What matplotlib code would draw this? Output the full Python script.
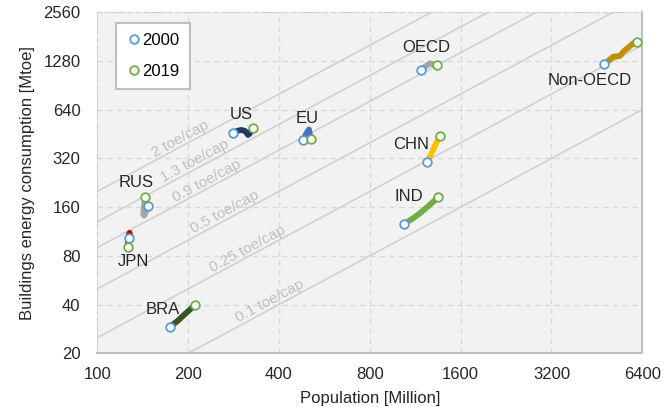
import numpy as np
import matplotlib.pyplot as plt
from matplotlib.lines import Line2D
from matplotlib.ticker import FixedLocator, FixedFormatter, NullLocator

plt.rcParams['font.family'] = ['Liberation Sans', 'DejaVu Sans']

# Population [Million] and buildings energy consumption [Mtoe], 2000 -> 2019
us_pop = [282, 290, 300, 309, 316, 321, 328]
us_energy = [458, 473, 480, 473, 447, 460, 492]
eu_pop = [482, 492, 503, 507, 510]
eu_energy = [416, 453, 483, 445, 421]
rus_pop = [147, 145, 143, 142, 143, 144]
rus_energy = [163, 150, 142, 145, 165, 186]
jpn_pop = [127, 128, 128, 127, 126]
jpn_energy = [103, 108, 111, 104, 91]
bra_pop = [174, 185, 197, 211]
bra_energy = [29.2, 31.8, 35.5, 39.8]
chn_pop = [1242, 1262, 1280, 1300, 1330, 1368]
chn_energy = [303, 325, 340, 365, 400, 443]
ind_pop = [1040, 1110, 1175, 1240, 1300, 1344]
ind_energy = [126, 136, 147, 160, 173, 184]
oecd_pop = [1183, 1220, 1268, 1300, 1340]
oecd_energy = [1128, 1180, 1240, 1215, 1211]
nonoecd_pop = [4785, 5140, 5407, 5545, 5985, 6144]
nonoecd_energy = [1223, 1362, 1377, 1463, 1650, 1687]

# per-capita reference lines [toe/cap]
toe_per_cap = [2, 1.3, 0.9, 0.5, 0.25, 0.1]
toe_labels = ['2 toe/cap', '1.3 toe/cap', '0.9 toe/cap', '0.5 toe/cap', '0.25 toe/cap', '0.1 toe/cap']

x_ticks = [100, 200, 400, 800, 1600, 3200, 6400]
y_ticks = [20, 40, 80, 160, 320, 640, 1280, 2560]

regions = [
    ('US', us_pop, us_energy, '#1F3864'),
    ('EU', eu_pop, eu_energy, '#4472C4'),
    ('RUS', rus_pop, rus_energy, '#A5A5A5'),
    ('JPN', jpn_pop, jpn_energy, '#C00000'),
    ('BRA', bra_pop, bra_energy, '#375623'),
    ('CHN', chn_pop, chn_energy, '#FFC000'),
    ('IND', ind_pop, ind_energy, '#70AD47'),
    ('OECD', oecd_pop, oecd_energy, '#A5A5A5'),
    ('Non-OECD', nonoecd_pop, nonoecd_energy, '#BF9000'),
]

# where each region name is written
name_pos = {
    'US': (301, 594), 'EU': (497, 567), 'RUS': (135, 227), 'JPN': (132, 73.7),
    'BRA': (165, 37.4), 'CHN': (1094, 393), 'IND': (1074, 186),
    'OECD': (1236, 1558), 'Non-OECD': (4276, 969),
}
toe_label_x = [188, 211, 231, 265, 316, 373]

fig = plt.figure(figsize=(6.7, 4.07), dpi=100)
ax = fig.add_axes([0.1452, 0.1319, 0.8133, 0.8379])
ax.set_facecolor('#F2F2F2')

ax.set_xscale('log', base=2)
ax.set_yscale('log', base=2)
ax.set_xlim(100, 6400)
ax.set_ylim(20, 2560)

ax.xaxis.set_major_locator(FixedLocator(x_ticks))
ax.xaxis.set_major_formatter(FixedFormatter([str(t) for t in x_ticks]))
ax.yaxis.set_major_locator(FixedLocator(y_ticks))
ax.yaxis.set_major_formatter(FixedFormatter([str(t) for t in y_ticks]))
ax.xaxis.set_minor_locator(NullLocator())
ax.yaxis.set_minor_locator(NullLocator())
ax.tick_params(length=0, labelsize=12, colors='#262626')
ax.tick_params(axis='x', pad=10)
ax.tick_params(axis='y', pad=12)
ax.grid(True, color='#D9D9D9', linestyle=(0, (4, 3)), linewidth=1)
ax.set_axisbelow(True)

for side in ['top', 'left']:
    ax.spines[side].set_color('#D0D0D0')
    ax.spines[side].set_linestyle((0, (4, 3)))
for side in ['bottom', 'right']:
    ax.spines[side].set_color('#BFBFBF')
    ax.spines[side].set_linewidth(1.5)

# toe/cap lines
xs = np.array([100, 6400])
for k in toe_per_cap:
    ax.plot(xs, xs * k, color='#D0D0D0', linewidth=1.2, zorder=1)

p0 = ax.transData.transform((100, 100))
p1 = ax.transData.transform((1000, 1000))
angle = np.degrees(np.arctan2(p1[1] - p0[1], p1[0] - p0[0]))
for k, lab, lx in zip(toe_per_cap, toe_labels, toe_label_x):
    ax.text(lx, lx * k * 1.12, lab, rotation=angle, rotation_mode='anchor',
            ha='center', va='center', fontsize=11, color='#BFBFBF', zorder=2)

for name, pop, energy, color in regions:
    ax.plot(pop, energy, color=color, linewidth=4.2, solid_capstyle='round',
            solid_joinstyle='round', zorder=3)
    ax.plot(pop[0], energy[0], 'o', markersize=6.2, markerfacecolor='white',
            markeredgecolor='#5B9BD5', markeredgewidth=1.3, zorder=4)
    ax.plot(pop[-1], energy[-1], 'o', markersize=6.2, markerfacecolor='white',
            markeredgecolor='#70AD47', markeredgewidth=1.3, zorder=4)
    tx, ty = name_pos[name]
    ax.text(tx, ty, name, ha='center', va='center', fontsize=12, color='#262626', zorder=5)

ax.set_xlabel('Population [Million]', fontsize=12, color='#262626', labelpad=6)
ax.set_ylabel('Buildings energy consumption [Mtoe]', fontsize=12, color='#262626', labelpad=6)

handles = [
    Line2D([], [], linestyle='none', marker='o', markersize=6.2, markerfacecolor='white',
           markeredgecolor='#5B9BD5', markeredgewidth=1.3),
    Line2D([], [], linestyle='none', marker='o', markersize=6.2, markerfacecolor='white',
           markeredgecolor='#70AD47', markeredgewidth=1.3),
]
leg = ax.legend(handles, ['2000', '2019'], loc='upper left', bbox_to_anchor=(0.034, 0.97),
                fontsize=12, frameon=True, fancybox=False, labelspacing=1.0,
                borderpad=0.6, handletextpad=0.0, handlelength=1.0, borderaxespad=0)
leg.get_frame().set_edgecolor('#BFBFBF')
leg.get_frame().set_linewidth(1.5)
leg.get_frame().set_facecolor('white')
leg.get_frame().set_alpha(1)

fig.savefig('out.png', dpi=100)
